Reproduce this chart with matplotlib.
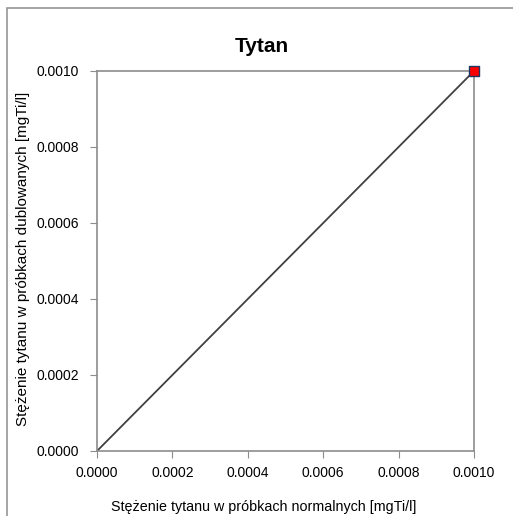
import numpy as np
import matplotlib
matplotlib.use("Agg")
import matplotlib.pyplot as plt
from matplotlib.patches import Rectangle

plt.rcParams['font.family'] = ['Liberation Sans', 'DejaVu Sans']

# data
normal = [0.0010]
dubl = [0.0010]
line_x = [0.0, 0.0010]
line_y = [0.0, 0.0010]
ticks = [0.0, 0.0002, 0.0004, 0.0006, 0.0008, 0.0010]

W, H = 513, 516
fig = plt.figure(figsize=(W/100, H/100), dpi=100)
# chart-area frame (runs off the right and bottom edge)
fig.patches.append(Rectangle((7/W, -0.1), 1.2, 1 - 8/H + 0.1, transform=fig.transFigure,
                             fill=False, edgecolor="#969696", linewidth=1.2))

ax = fig.add_axes([97/W, 1 - 451/H, (474-97)/W, (451-71)/H])
ax.plot(line_x, line_y, color="#404040", lw=1.3, zorder=2)
ax.scatter(normal, dubl, marker="s", s=44, color="red", edgecolors="#1f3864", linewidths=1, zorder=3, clip_on=False)
ax.set_xlim(0, 0.0010); ax.set_ylim(0, 0.0010)
ax.set_xticks(ticks); ax.set_yticks(ticks)
ax.set_xticklabels([f"{t:.4f}" for t in ticks], fontsize=10)
ax.set_yticklabels([f"{t:.4f}" for t in ticks], fontsize=10)
for s in ax.spines.values():
    s.set_color("#8c8c8c"); s.set_linewidth(1.2)
ax.tick_params(direction="out", length=5, color="#8c8c8c")
ax.tick_params(axis="x", pad=6)
ax.tick_params(axis="y", pad=8)

# title and axis titles are centred on the chart area (Excel style)
fig.text(261.5/W, 1 - 52/H, "Tytan", fontsize=15, fontweight="bold", ha="center", va="baseline")
fig.text(263.5/W, 1 - 511/H, "Stężenie tytanu w próbkach normalnych [mgTi/l]", fontsize=10.3,
         ha="center", va="baseline")
fig.text(23/W, 1 - 258.5/H, "Stężenie tytanu w próbkach dublowanych [mgTi/l]", fontsize=11,
         rotation=90, ha="center", va="center")

fig.savefig("out.png", dpi=100)
